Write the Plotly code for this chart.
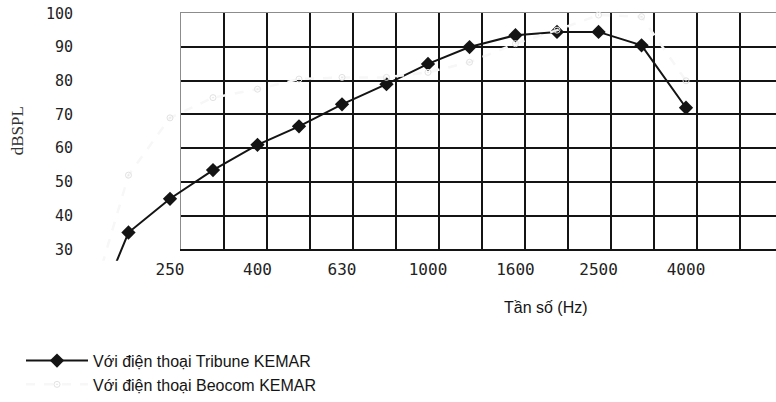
import math
import plotly.graph_objects as go

# Third-octave band centre frequencies (Hz) and measured levels (dB SPL)
freq_hz = [160, 200, 250, 315, 400, 500, 630, 800, 1000, 1250, 1600, 2000, 2500, 3150, 4000]
tribune_db = [5, 35, 45, 53.5, 61, 66.5, 73, 79, 85, 90, 93.5, 94.5, 94.5, 90.5, 72]
beocom_db = [10, 52, 69, 75, 77.5, 80.5, 81, 81, 82.5, 85.5, 91, 95, 99.5, 99, 80]

x_tick_vals = [250, 400, 630, 1000, 1600, 2500, 4000]
x_tick_text = ["250", "400", "630", "1000", "1600", "2500", "4000"]
y_tick_vals = [30, 40, 50, 60, 70, 80, 90, 100]

series_names = ["Với điện thoại Tribune KEMAR", "Với điện thoại Beocom KEMAR"]
y_label = "dBSPL"
x_label = "Tần số (Hz)"

# ---- page geometry (pixels) ----
W, H = 776, 402
px_per_octave = 129.0          # horizontal scale of the log axis
x_ref_px, x_ref_hz = 170.0, 250.0
y30_px, y100_px = 252.5, 13.5  # pixel rows of 30 and 100 dB
px_per_db = (y30_px - y100_px) / 70.0
data_bottom_px = 264.0         # lower clip edge of the data area
grid_left_px = 181.0
band_px = px_per_octave / 3.0

log2 = math.log10(2.0)
x_lo = math.log10(x_ref_hz) - (x_ref_px / px_per_octave) * log2
x_hi = math.log10(x_ref_hz) + ((W - x_ref_px) / px_per_octave) * log2
y_top = 30 + y30_px / px_per_db
y_bot = 30 - (data_bottom_px - y30_px) / px_per_db

ink = "#141414"
frame_grey = "#8c8c8c"
mono = "DejaVu Sans Mono"
sans = "Liberation Sans, Arial, sans-serif"

fig = go.Figure()

# empty traces that hold the gridded box (bottom/left and top frame axes)
fig.add_trace(go.Scatter(x=[], y=[], xaxis="x", yaxis="y",
                         showlegend=False, hoverinfo="skip"))
fig.add_trace(go.Scatter(x=[], y=[], xaxis="x3", yaxis="y",
                         showlegend=False, hoverinfo="skip"))

fig.add_trace(go.Scatter(
    x=freq_hz, y=tribune_db, name=series_names[0],
    xaxis="x2", yaxis="y2", mode="lines+markers",
    line=dict(color=ink, width=2),
    marker=dict(symbol="diamond", size=11, color=ink),
))
fig.add_trace(go.Scatter(
    x=freq_hz, y=beocom_db, name=series_names[1],
    xaxis="x2", yaxis="y2", mode="lines+markers",
    line=dict(color="#f7f7f7", width=2.5, dash="dash"),
    marker=dict(symbol="circle-open-dot", size=6, color="#e2e2e2", line=dict(width=1)),
))

n_bands = (W - grid_left_px) / band_px

fig.update_layout(
    width=W, height=H,
    margin=dict(l=0, r=0, t=0, b=0),
    paper_bgcolor="white",
    plot_bgcolor="rgba(0,0,0,0)",
    showlegend=True,
    # grid box: band-index axis and dB axis
    xaxis=dict(
        domain=[grid_left_px / W, 1], range=[0, n_bands],
        tickmode="array", tickvals=list(range(1, int(n_bands) + 1)),
        showticklabels=False, ticks="",
        showgrid=True, gridcolor=ink, gridwidth=2,
        zeroline=False, showline=True, linecolor=ink, linewidth=2,
        fixedrange=True,
    ),
    xaxis3=dict(
        overlaying="x", side="top", anchor="y", range=[0, n_bands],
        showticklabels=False, ticks="", showgrid=False, zeroline=False,
        showline=True, linecolor=frame_grey, linewidth=1.3,
        fixedrange=True,
    ),
    yaxis=dict(
        domain=[1 - y30_px / H, 1 - y100_px / H], range=[30, 100],
        tickmode="array", tickvals=[40, 50, 60, 70, 80, 90],
        showticklabels=False, ticks="",
        showgrid=True, gridcolor=ink, gridwidth=2,
        zeroline=False, showline=True, linecolor=frame_grey, linewidth=1.3,
        fixedrange=True,
    ),
    # data axes
    xaxis2=dict(
        type="log", domain=[0, 1], range=[x_lo, x_hi],
        anchor="free", position=1 - 261 / H,
        tickmode="array", tickvals=x_tick_vals, ticktext=x_tick_text,
        ticks="", showgrid=False, zeroline=False, showline=False,
        tickfont=dict(family=mono, size=16, color="#222"),
    ),
    yaxis2=dict(
        domain=[1 - data_bottom_px / H, 1], range=[y_bot, y_top],
        anchor="free", position=73 / W,
        tickmode="array", tickvals=y_tick_vals,
        ticks="", showgrid=False, zeroline=False, showline=False,
        tickfont=dict(family=mono, size=15, color="#222"),
    ),
    legend=dict(
        x=21 / W, y=1 - 348 / H, xanchor="left", yanchor="top",
        itemwidth=62, bgcolor="rgba(0,0,0,0)",
        font=dict(family=sans, size=16, color=ink),
        traceorder="normal",
    ),
    annotations=[
        dict(text=x_label, x=546 / W, y=1 - 311 / H, xref="paper", yref="paper",
             xanchor="center", yanchor="middle", showarrow=False,
             font=dict(family=sans, size=16, color=ink)),
        dict(text=y_label, x=17 / W, y=1 - 133 / H, xref="paper", yref="paper",
             xanchor="center", yanchor="middle", showarrow=False, textangle=-90,
             font=dict(family="Liberation Serif, Times New Roman, serif", size=17, color="#333")),
    ],
)

fig.write_html("out.html")
